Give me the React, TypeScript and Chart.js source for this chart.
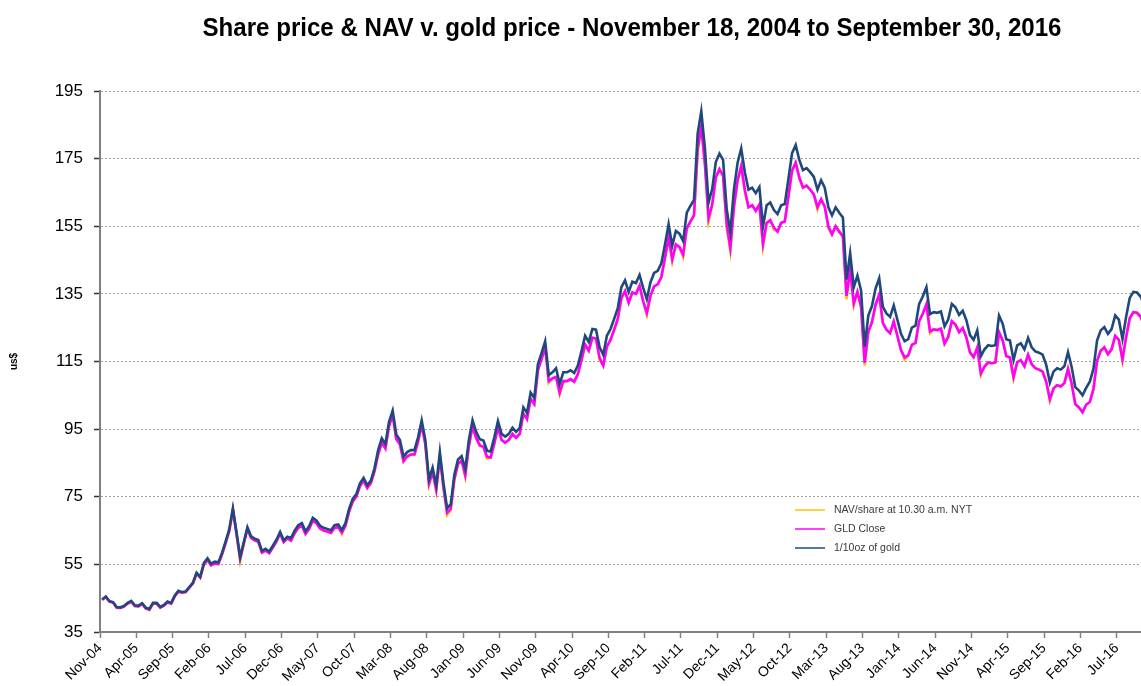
import React, { useEffect, useRef } from 'react';
import { Chart, registerables } from 'chart.js';

Chart.register(...registerables);

const TITLE = 'Share price & NAV v. gold price - November 18, 2004 to September 30, 2016';
const Y_AXIS_TITLE = 'us$';
const SERIES_LABELS = ['NAV/share at 10.30 a.m. NYT', 'GLD Close', '1/10oz of gold'];
const SERIES_COLORS = ['#FFC000', '#FF00FF', '#1F497D'];

const X_TICK_LABELS = [
  'Nov-04', 'Apr-05', 'Sep-05', 'Feb-06', 'Jul-06', 'Dec-06', 'May-07', 'Oct-07', 'Mar-08', 'Aug-08',
  'Jan-09', 'Jun-09', 'Nov-09', 'Apr-10', 'Sep-10', 'Feb-11', 'Jul-11', 'Dec-11', 'May-12', 'Oct-12',
  'Mar-13', 'Aug-13', 'Jan-14', 'Jun-14', 'Nov-14', 'Apr-15', 'Sep-15', 'Feb-16', 'Jul-16',
];
const X_TICK_STEP = 5; // months between labelled ticks
const X_MAX = 143.35; // months after Nov-04 at the right edge of the plot
const Y_TICKS = [35, 55, 75, 95, 115, 135, 155, 175, 195];

const SERIES_START = 0.3;
const SERIES_STEP = 0.5;

const goldTenth = [
  44.6, 45.5, 44.1, 43.8,
  42.4, 42.3, 42.7, 43.6, 44.2, 42.9, 42.8, 43.5, 42.2, 41.8, 43.6, 43.6, 42.4, 43.0, 44.0, 43.6, 45.8, 47.2, 46.8, 47.0, 48.3, 49.6, 52.5, 51.3,
  55.4, 56.8, 55.2, 55.8, 55.6, 58.4, 61.8, 65.4, 71.6, 64.5, 57.2, 61.6, 66.0, 63.3, 62.6, 62.2, 59.0, 59.6, 58.8, 60.5, 62.3, 64.6, 62.1, 63.2,
  62.8, 65.0, 66.6, 67.2, 64.8, 66.3, 68.8, 68.0, 66.4, 65.8, 65.5, 65.1, 66.6, 66.8, 65.2, 67.2, 71.4, 74.4, 75.8, 79.0, 80.6, 78.4, 79.8, 83.4,
  88.8, 92.3, 90.6, 97.2, 100.5, 93.4, 91.8, 86.8, 88.2, 88.8, 88.8, 92.6, 97.6, 91.8, 80.2, 83.6, 78.4, 88.2, 79.0, 71.6, 72.8, 81.6, 86.0, 87.0,
  83.2, 91.9, 97.6, 94.2, 92.0, 91.6, 88.6, 88.4, 92.6, 97.4, 93.6, 92.8, 93.6, 95.4, 94.2, 95.4, 101.4, 99.8, 105.8, 104.2, 114.2, 117.5, 121.0, 111.0, 111.8,
  113.0, 108.4, 111.8, 111.8, 112.4, 111.6, 113.8, 118.0, 122.6, 120.8, 124.6, 124.4, 119.2, 117.0, 122.6, 124.6, 127.6, 130.8, 137.0, 139.0, 135.6, 138.6, 138.2, 140.6,
  136.8, 133.4, 138.4, 141.2, 141.8, 144.0, 149.6, 155.6, 149.2, 153.6, 152.8, 150.6, 159.0, 161.0, 162.8, 182.4, 189.0, 178.0, 162.0, 166.0, 174.0, 176.5, 174.6, 160.0, 153.2,
  166.0, 173.8, 178.0, 171.0, 165.8, 166.4, 164.8, 166.6, 155.0, 161.2, 162.0, 159.8, 158.6, 161.2, 161.6, 169.0, 176.6, 179.0, 174.6, 171.6, 172.2, 171.0, 169.6, 165.8,
  168.6, 166.4, 160.6, 158.2, 160.6, 159.0, 157.6, 139.2, 147.0, 137.0, 140.4, 136.0, 119.4, 128.6, 131.4, 136.6, 139.6, 131.2, 129.2, 128.2, 131.6, 127.4, 123.2, 121.0, 121.6,
  125.0, 125.6, 132.0, 134.2, 137.0, 129.0, 129.6, 129.4, 129.8, 125.4, 127.4, 132.0, 131.0, 128.8, 130.0, 127.2, 122.8, 121.4, 124.2, 116.6, 118.6, 119.8, 119.6, 119.8,
  128.6, 126.2, 121.6, 121.2, 115.4, 119.8, 120.4, 118.6, 122.0, 119.2, 118.0, 117.6, 117.0, 114.0, 108.8, 112.0, 113.0, 112.6, 113.6, 117.8, 113.4, 107.4, 106.4, 105.0, 107.2,
  109.0, 112.8, 121.2, 124.2, 125.2, 123.2, 124.6, 128.6, 127.4, 121.6, 128.2, 133.8, 135.6, 135.4, 134.2, 131.6, 131.6, 132.2,
];

const gldClose = [
  44.5, 45.4, 44.0, 43.7,
  42.2, 42.1, 42.5, 43.4, 44.0, 42.7, 42.6, 43.3, 42.0, 41.6, 43.4, 43.4, 42.2, 42.8, 43.8, 43.4, 45.6, 47.0, 46.6, 46.8, 48.1, 49.4, 52.3, 51.1,
  54.9, 56.3, 54.7, 55.3, 55.1, 57.9, 61.3, 64.9, 71.1, 64.0, 56.7, 61.1, 65.5, 62.8, 62.1, 61.7, 58.5, 59.1, 58.3, 60.0, 61.8, 64.1, 61.6, 62.7,
  62.0, 64.2, 65.8, 66.4, 64.0, 65.5, 68.0, 67.2, 65.6, 65.0, 64.7, 64.3, 65.8, 66.0, 64.4, 66.4, 70.6, 73.6, 75.0, 78.2, 79.8, 77.6, 79.0, 82.6,
  87.5, 91.0, 89.3, 95.9, 99.2, 92.1, 90.5, 85.5, 86.9, 87.5, 87.5, 91.3, 96.3, 90.5, 78.9, 82.3, 77.1, 86.9, 77.7, 70.3, 71.5, 80.3, 84.7, 85.7,
  81.4, 90.1, 95.8, 92.4, 90.2, 89.8, 86.8, 86.6, 90.8, 95.6, 91.8, 91.0, 91.8, 93.6, 92.4, 93.6, 99.6, 98.0, 104.0, 102.4, 112.4, 115.7, 119.2, 109.2, 110.0,
  110.4, 105.8, 109.2, 109.2, 109.8, 109.0, 111.2, 115.4, 120.0, 118.2, 122.0, 121.8, 116.0, 113.8, 119.4, 121.4, 124.4, 127.6, 133.8, 135.8, 132.4, 135.4, 135.0, 137.4,
  132.8, 129.4, 134.4, 137.2, 137.8, 140.0, 145.6, 151.6, 145.2, 149.6, 148.8, 146.6, 154.4, 156.4, 158.2, 177.8, 184.4, 173.4, 157.4, 161.4, 169.4, 171.9, 170.0, 155.4, 148.6,
  160.8, 168.6, 172.8, 165.8, 160.6, 161.2, 159.6, 161.4, 149.8, 156.0, 156.8, 154.6, 153.4, 156.0, 156.4, 163.8, 171.4, 173.8, 169.4, 166.4, 167.0, 165.8, 164.4, 160.6,
  163.0, 160.8, 155.0, 152.6, 155.0, 153.4, 152.0, 134.4, 142.2, 132.2, 135.6, 131.2, 114.6, 123.8, 126.6, 131.8, 134.8, 126.4, 124.4, 123.4, 126.8, 122.6, 118.4, 116.2, 116.8,
  119.9, 120.5, 126.9, 129.1, 131.9, 123.9, 124.5, 124.3, 124.7, 120.3, 122.3, 126.9, 125.9, 123.7, 124.9, 122.1, 117.7, 116.3, 119.1, 111.5, 113.5, 114.7, 114.5, 114.7,
  123.6, 121.2, 116.6, 116.2, 110.4, 114.8, 115.4, 113.6, 117.0, 114.2, 113.0, 112.6, 112.0, 109.0, 103.8, 107.0, 108.0, 107.6, 108.6, 112.8, 108.4, 102.4, 101.4, 100.0, 102.2,
  103.0, 106.8, 115.2, 118.2, 119.2, 117.2, 118.6, 122.6, 121.4, 115.6, 122.2, 127.8, 129.6, 129.4, 128.2, 125.6, 125.6, 126.2,
];

const navShare = [
  44.5, 45.4, 44.0, 43.7,
  42.2, 42.1, 42.5, 43.4, 44.0, 42.7, 42.6, 43.3, 42.0, 41.5, 43.4, 43.4, 42.2, 42.8, 43.8, 43.4, 45.6, 47.0, 46.6, 46.8, 48.1, 49.4, 52.3, 51.1,
  54.9, 56.3, 54.7, 55.3, 55.1, 57.9, 61.3, 64.9, 71.1, 64.0, 56.0, 61.1, 65.5, 62.8, 62.1, 61.7, 58.5, 59.1, 58.3, 60.0, 61.8, 64.1, 61.6, 62.7,
  62.0, 64.2, 65.8, 66.4, 64.0, 65.5, 68.0, 67.2, 65.6, 65.0, 64.7, 64.3, 65.8, 66.0, 64.0, 66.4, 70.6, 73.6, 75.0, 78.2, 79.8, 77.6, 79.0, 82.6,
  87.5, 91.0, 89.3, 95.9, 99.2, 92.1, 90.5, 85.5, 86.9, 87.5, 87.5, 91.3, 96.3, 90.5, 78.4, 82.3, 76.6, 86.9, 77.7, 69.6, 71.0, 80.3, 84.7, 85.7,
  80.9, 90.1, 95.8, 92.4, 90.2, 89.8, 86.3, 86.6, 90.8, 95.6, 91.8, 91.0, 91.8, 93.6, 92.4, 93.6, 99.6, 98.0, 104.0, 102.4, 112.4, 115.7, 119.2, 108.7, 110.0,
  110.4, 105.3, 109.2, 109.2, 109.8, 109.0, 111.2, 115.4, 120.0, 118.2, 122.0, 121.8, 115.5, 113.8, 119.4, 121.4, 124.4, 127.6, 133.8, 135.8, 132.4, 135.4, 135.0, 137.4,
  132.8, 128.8, 134.4, 137.2, 137.8, 140.0, 145.6, 151.6, 144.6, 149.6, 148.8, 146.0, 154.4, 156.4, 158.2, 177.0, 184.4, 173.4, 156.4, 161.0, 169.4, 171.9, 170.0, 154.8, 147.6,
  160.8, 168.6, 172.8, 165.0, 160.6, 161.2, 159.6, 161.4, 149.0, 156.0, 156.8, 154.0, 153.4, 156.0, 156.4, 163.8, 171.4, 173.8, 169.4, 166.4, 167.0, 165.8, 164.4, 160.0,
  163.0, 160.8, 154.4, 152.6, 155.0, 153.4, 152.0, 133.4, 142.2, 131.6, 135.6, 131.2, 113.8, 123.8, 126.6, 131.8, 134.8, 126.4, 124.4, 123.4, 126.8, 122.6, 118.4, 115.6, 116.8,
  119.9, 120.5, 126.9, 129.1, 131.9, 123.4, 124.5, 124.3, 124.7, 120.3, 122.3, 126.9, 125.9, 123.7, 124.9, 122.1, 117.7, 116.3, 119.1, 111.0, 113.5, 114.7, 114.5, 114.7,
  123.6, 121.2, 116.6, 116.2, 110.0, 114.8, 115.4, 113.6, 117.0, 114.2, 113.0, 112.6, 112.0, 109.0, 103.4, 107.0, 108.0, 107.6, 108.6, 112.8, 108.4, 102.4, 101.4, 100.0, 102.2,
  103.0, 106.8, 115.2, 118.2, 119.2, 117.2, 118.6, 122.6, 121.4, 115.2, 122.2, 127.8, 129.6, 129.4, 128.2, 125.6, 125.6, 126.2,
];

const FONT = '"Liberation Sans", Arial, Helvetica, sans-serif';

const toPoints = (values: number[]) =>
  values.map((y, i) => ({ x: SERIES_START + i * SERIES_STEP, y }));

const titlePlugin = {
  id: 'customTitle',
  afterDraw(chart: any) {
    const { ctx } = chart;
    ctx.save();
    ctx.font = `bold 25px ${FONT}`;
    ctx.fillStyle = '#000';
    ctx.textAlign = 'center';
    ctx.textBaseline = 'alphabetic';
    ctx.fillText(TITLE, 632, 36, 859);
    ctx.restore();
  },
};

const legendPlugin = {
  id: 'insetLegend',
  afterDraw(chart: any) {
    const { ctx } = chart;
    ctx.save();
    ctx.font = `10.5px ${FONT}`;
    ctx.textBaseline = 'middle';
    ctx.textAlign = 'left';
    chart.data.datasets.forEach((ds: any, i: number) => {
      const y = 510 + i * 19;
      ctx.strokeStyle = ds.borderColor;
      ctx.lineWidth = 1.5;
      ctx.beginPath();
      ctx.moveTo(795, y);
      ctx.lineTo(825, y);
      ctx.stroke();
      ctx.fillStyle = '#3a3a3a';
      ctx.fillText(ds.label, 834, y);
    });
    ctx.restore();
  },
};

export default function App() {
  const canvasRef = useRef<HTMLCanvasElement | null>(null);

  useEffect(() => {
    if (!canvasRef.current) return;
    const seriesValues = [navShare, gldClose, goldTenth];
    const chart = new Chart(canvasRef.current, {
      type: 'line',
      data: {
        datasets: seriesValues.map((vals, i) => ({
          label: SERIES_LABELS[i],
          data: toPoints(vals),
          borderColor: SERIES_COLORS[i],
          backgroundColor: SERIES_COLORS[i],
          borderWidth: 2.6,
          pointRadius: 0,
          tension: 0,
          fill: false,
          order: 3 - i,
        })),
      },
      options: {
        animation: false,
        responsive: false,
        events: [],
        layout: { padding: { top: 91, left: 8, right: 0, bottom: 0 } },
        plugins: {
          legend: { display: false },
          tooltip: { enabled: false },
          title: { display: false },
        },
        scales: {
          x: {
            type: 'linear',
            min: 0,
            max: X_MAX,
            afterBuildTicks: (scale: any) => {
              scale.ticks = X_TICK_LABELS.map((_, i) => ({ value: i * X_TICK_STEP }));
            },
            afterFit: (scale: any) => {
              scale.height = 54;
              scale.paddingLeft = 0;
              scale.paddingRight = 0;
            },
            ticks: {
              autoSkip: false,
              minRotation: 45,
              maxRotation: 45,
              padding: 2,
              color: '#000',
              font: { family: FONT, size: 14 },
              callback: (v: any) => X_TICK_LABELS[Math.round(Number(v) / X_TICK_STEP)] ?? '',
            },
            grid: {
              drawOnChartArea: false,
              drawTicks: true,
              tickLength: 6,
              tickColor: '#808080',
              tickWidth: 1.5,
            },
            border: { display: true, color: '#808080', width: 2 },
          },
          y: {
            type: 'linear',
            min: 35,
            max: 195,
            afterBuildTicks: (scale: any) => {
              scale.ticks = Y_TICKS.map((v) => ({ value: v }));
            },
            afterFit: (scale: any) => {
              scale.width = 92;
            },
            ticks: {
              padding: 11,
              color: '#000',
              font: { family: FONT, size: 17 },
            },
            grid: {
              color: '#a0a0a0',
              lineWidth: 1,
              tickLength: 6,
              tickColor: '#333',
              tickWidth: 1.5,
              tickBorderDash: [],
            },
            border: { display: true, color: '#808080', width: 2, dash: [2, 2] },
            title: {
              display: true,
              text: Y_AXIS_TITLE,
              color: '#000',
              font: { family: FONT, size: 10, weight: 'bold' },
              padding: 0,
            },
          },
        },
      } as any,
      plugins: [titlePlugin, legendPlugin],
    });
    return () => chart.destroy();
  }, []);

  return (
    <div style={{ position: 'absolute', left: 0, top: 0, width: 1141, height: 686, background: '#fff' }}>
      <canvas ref={canvasRef} width={1141} height={686} style={{ display: 'block' }} />
    </div>
  );
}
